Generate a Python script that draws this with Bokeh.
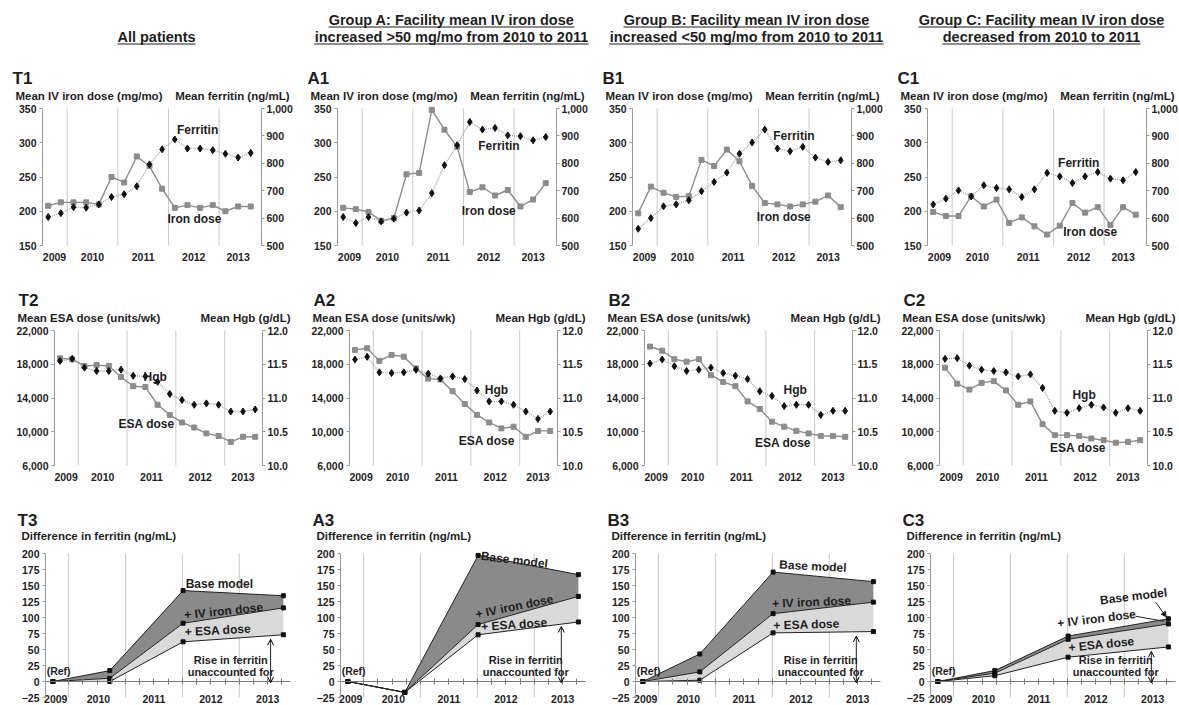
from bokeh.plotting import figure
from bokeh.models import (Range1d, LinearAxis, FixedTicker, Label,
                          NumeralTickFormatter, Arrow, OpenHead, NormalHead)
from bokeh.layouts import column, row
from bokeh.embed import file_html
from bokeh.resources import INLINE
from bokeh.core.properties import value

FONT = "Liberation Sans"
TXT = "#1e1e1e"

# ---------------- data ----------------
quarters = ["2009 Q3", "2009 Q4", "2010 Q1", "2010 Q2", "2010 Q3", "2010 Q4",
            "2011 Q1", "2011 Q2", "2011 Q3", "2011 Q4", "2012 Q1", "2012 Q2",
            "2012 Q3", "2012 Q4", "2013 Q1", "2013 Q2", "2013 Q3"]
years = ["2009", "2010", "2011", "2012", "2013"]

# Row 1: mean IV iron dose (mg/mo) and mean ferritin (ng/mL)
iron_T = [208, 213, 213, 213, 210, 250, 242, 280, 266, 233, 205, 209, 205, 209, 200, 207, 207]
ferr_T = [604, 618, 640, 638, 650, 677, 687, 716, 796, 851, 887, 854, 854, 848, 835, 821, 838]
iron_A = [205, 203, 199, 186, 190, 254, 256, 348, 319, 294, 228, 235, 223, 231, 207, 217, 241]
ferr_A = [604, 582, 604, 588, 598, 620, 628, 691, 793, 866, 951, 923, 929, 902, 899, 884, 896]
iron_B = [197, 236, 227, 221, 222, 275, 266, 290, 273, 237, 212, 210, 207, 210, 214, 223, 206]
ferr_B = [561, 600, 643, 650, 665, 698, 732, 766, 835, 876, 923, 854, 844, 860, 821, 805, 811]
iron_C = [199, 193, 193, 222, 207, 217, 183, 191, 178, 166, 179, 212, 198, 206, 180, 206, 195]
ferr_C = [650, 671, 701, 679, 720, 710, 705, 677, 705, 765, 752, 728, 752, 768, 744, 738, 768]

# Row 2: mean ESA dose (units/wk) and mean Hgb (g/dL)
esa_T = [18700, 18600, 17800, 17900, 17800, 16500, 15400, 15300, 13200, 12000, 11100, 10500, 9800, 9500, 8800, 9400, 9400]
hgb_T = [11.55, 11.58, 11.45, 11.40, 11.40, 11.42, 11.33, 11.32, 11.24, 11.06, 10.97, 10.90, 10.92, 10.90, 10.80, 10.80, 10.83]
esa_A = [19700, 19900, 18400, 19100, 18900, 17500, 16300, 16200, 14800, 13300, 12000, 11100, 10400, 10600, 9400, 10100, 10100]
hgb_A = [11.57, 11.61, 11.38, 11.37, 11.38, 11.42, 11.36, 11.29, 11.32, 11.28, 11.11, 10.95, 10.95, 10.90, 10.80, 10.69, 10.80]
esa_B = [20100, 19600, 18600, 18300, 18600, 16700, 15900, 15400, 13600, 12700, 11200, 10600, 10100, 9800, 9500, 9500, 9400]
hgb_B = [11.51, 11.57, 11.47, 11.40, 11.42, 11.45, 11.37, 11.33, 11.28, 11.10, 11.03, 10.88, 10.90, 10.90, 10.75, 10.81, 10.81]
esa_C = [17600, 15700, 15000, 15800, 16000, 14900, 13200, 13600, 10900, 9600, 9600, 9500, 9200, 9000, 8700, 8800, 9000]
hgb_C = [11.58, 11.59, 11.48, 11.42, 11.40, 11.38, 11.32, 11.35, 11.15, 10.81, 10.78, 10.85, 10.90, 10.86, 10.78, 10.85, 10.81]

# Row 3: difference in ferritin (ng/mL) by model, at four time points (quarter index)
diff_x = [0.4, 4.4, 9.55, 16.6]
base_T = [0, 17, 142, 134]
iv_T = [0, 5, 91, 115]
esa3_T = [0, 0, 62, 73]
base_A = [0, -17, 197, 167]
iv_A = [0, -17, 89, 133]
esa3_A = [0, -17, 73, 93]
base_B = [0, 43, 171, 156]
iv_B = [0, 15, 106, 124]
esa3_B = [0, 2, 76, 78]
base_C = [0, 17, 71, 98]
iv_C = [0, 13, 66, 90]
esa3_C = [0, 9, 38, 54]

headers = [["All patients"],
           ["Group A: Facility mean IV iron dose", "increased >50 mg/mo from 2010 to 2011"],
           ["Group B: Facility mean IV iron dose", "increased <50 mg/mo from 2010 to 2011"],
           ["Group C: Facility mean IV iron dose", "decreased from 2010 to 2011"]]

# ---------------- layout constants ----------------
COLWS = [295, 295, 295, 293]
xq = list(range(len(quarters)))
year_pos12 = [0.5, 3.5, 7.5, 11.5, 15.0]
year_pos3 = [0.6, 3.6, 7.5, 11.5, 15.5]
year_breaks = [1.5, 5.5, 9.5, 13.5]
quarter_bounds = [b + 0.5 for b in range(1, 17)]
AXC = "#9a9a9a"
TICK_SIZE = "10.5px"
TITLE_SIZE = "11.5px"


def style_axis(ax, size=TICK_SIZE):
    ax.major_label_text_font = FONT
    ax.major_label_text_font_style = "bold"
    ax.major_label_text_font_size = size
    ax.major_label_text_color = TXT
    ax.minor_tick_line_color = None


def add_label(p, x, y, text, size=TITLE_SIZE, align="center", baseline="middle",
              xo=0, yo=0, angle=0.0, rname="default"):
    p.add_layout(Label(x=x, y=y, text=text, x_offset=xo, y_offset=yo, angle=angle,
                       text_font=FONT, text_font_style="bold", text_font_size=size,
                       text_color=TXT, text_align=align, text_baseline=baseline,
                       y_range_name=rname))


def full_range(lo, hi, before, inner, after):
    s = (hi - lo) / inner
    return Range1d(lo - before * s, hi + after * s)


def panel_fig(W, H, fl, fw, top, fh, xbox, ybox):
    """Figure whose frame fills the whole canvas; the plot box (fl, top, fw, fh)
    maps to the data box xbox x ybox. All axes are fixed inside."""
    xr = full_range(xbox[0], xbox[1], fl, fw, W - fl - fw)
    yr = full_range(ybox[0], ybox[1], H - top - fh, fh, top)
    p = figure(width=W, height=H, x_range=xr, y_range=yr,
               output_backend="svg", toolbar_location=None, min_border=0,
               x_axis_location=None, y_axis_location=None)
    p.outline_line_color = None
    p.grid.visible = False
    n = len(year_breaks)
    p.segment(x0=year_breaks, y0=[ybox[0]] * n, x1=year_breaks, y1=[ybox[1]] * n,
              line_color="#c9c9c9", line_width=1)
    return p


def value_axis(loc, bounds, ticks, fmt, rname="default"):
    ax = LinearAxis(fixed_location=loc, bounds=bounds, y_range_name=rname,
                    ticker=FixedTicker(ticks=ticks))
    if fmt:
        ax.formatter = NumeralTickFormatter(format=fmt)
    ax.axis_line_color = AXC
    ax.major_tick_line_color = AXC
    ax.major_tick_out = 3
    ax.major_tick_in = 0
    ax.major_label_standoff = 3
    style_axis(ax)
    return ax


def dual_panel(W, letter, ltitle, rtitle, lvals, rvals, lrange, lticks, lfmt,
               rrange, rticks, rfmt, names, fl, fw, fh, xend, letter_dx, title_dx, rtitle_dx):
    H, top = 222, 53
    xbox = (-0.45, xend)
    p = panel_fig(W, H, fl, fw, top, fh, xbox, lrange)
    p.extra_y_ranges = {"r": full_range(rrange[0], rrange[1], H - top - fh, fh, top)}

    xa = LinearAxis(fixed_location=lrange[0], ticker=FixedTicker(ticks=year_pos12))
    xa.major_label_overrides = {v: t for v, t in zip(year_pos12, years)}
    xa.axis_line_color = None
    xa.major_tick_line_color = None
    xa.major_tick_out = 0
    xa.major_label_standoff = 7
    style_axis(xa)
    p.add_layout(xa, "below")
    p.add_layout(value_axis(xbox[0], lrange, lticks, lfmt), "left")
    ra = value_axis(xbox[1], rrange, rticks, rfmt, rname="r")
    ra.major_label_standoff = 2
    p.add_layout(ra, "right")

    p.line(xq, lvals, line_color="#8c8c8c", line_width=1.4)
    p.scatter(xq, lvals, marker="square", size=5, color="#8c8c8c")
    p.line(xq, rvals, y_range_name="r", line_color="#a8a8a8", line_width=1.4, line_dash="1 1")
    p.scatter(xq, rvals, y_range_name="r", marker="diamond", size=7, color="#111111")

    for (t, x, y) in names:
        add_label(p, x, y, t, size="12px")

    add_label(p, xbox[0], lrange[1], letter, size="17px", align="left", xo=letter_dx, yo=30)
    add_label(p, xbox[0], lrange[1], ltitle, align="left", xo=title_dx, yo=13)
    add_label(p, xbox[1], lrange[1], rtitle, align="right", xo=rtitle_dx, yo=13)
    return p


def diff_panel(W, letter, base, iv, esa, texts, arrow_x, extras=()):
    H, top, fl, fw, fh = 205, 54, 45, 245, 144
    xbox, ybox = (-0.12, 17.1), (-25, 200)
    p = panel_fig(W, H, fl, fw, top, fh, xbox, ybox)
    p.add_layout(value_axis(xbox[0], ybox, [-25, 0, 25, 50, 75, 100, 125, 150, 175, 200], None), "left")
    xa = LinearAxis(fixed_location=0, bounds=xbox,
                    ticker=FixedTicker(ticks=year_pos3, minor_ticks=quarter_bounds))
    xa.major_label_overrides = {v: t for v, t in zip(year_pos3, years)}
    xa.axis_line_color = "#7a7a7a"
    xa.major_tick_line_color = None
    xa.major_tick_out = 0
    xa.major_tick_in = 0
    xa.major_label_standoff = 10
    style_axis(xa)
    xa.minor_tick_line_color = "#7a7a7a"
    xa.minor_tick_in = 3
    xa.minor_tick_out = 3
    p.add_layout(xa, "below")

    p.varea(x=diff_x, y1=iv, y2=base, fill_color="#8a8a8a")
    p.varea(x=diff_x, y1=esa, y2=iv, fill_color="#d9d9d9")
    for s in (base, iv, esa):
        p.line(diff_x, s, line_color="#222222", line_width=1)
        p.scatter(diff_x, s, marker="square", size=4, color="#111111")

    for (t, x, y, ang) in texts:
        add_label(p, x, y, t, size="12px", angle=ang)
    add_label(p, 0.8, 16, "(Ref)", size="10.5px")
    add_label(p, 12.9, 33, "Rise in ferritin", size="11px")
    add_label(p, 12.9, 15, "unaccounted for", size="11px")
    p.add_layout(Arrow(x_start=arrow_x, y_start=esa[-1] - 7, x_end=arrow_x, y_end=-2,
                       start=OpenHead(size=6, line_width=1), end=OpenHead(size=6, line_width=1),
                       line_width=1, line_color="#222222"))
    for (xs, ys, xe, ye, head) in extras:
        p.add_layout(Arrow(x_start=xs, y_start=ys, x_end=xe, y_end=ye,
                           end=NormalHead(size=5, fill_color="#222222", line_color="#222222") if head else None,
                           line_width=1, line_color="#222222"))

    add_label(p, xbox[0], ybox[1], letter, size="17px", align="left", xo=-28, yo=33)
    add_label(p, xbox[0], ybox[1], "Difference in ferritin (ng/mL)", align="left", xo=-24, yo=18)
    return p


# ---------------- header ----------------
widths = {' ': 278, 'A': 722, 'B': 722, 'C': 722, 'F': 611, 'G': 778, 'I': 278, 'V': 667,
          'a': 556, 'b': 611, 'c': 556, 'd': 611, 'e': 556, 'f': 333, 'g': 611, 'h': 611,
          'i': 278, 'l': 278, 'm': 889, 'n': 611, 'o': 611, 'p': 611, 'r': 389, 's': 556,
          't': 333, 'u': 611, 'y': 556, ':': 333, '>': 584, '<': 584, '/': 278}
HSIZE = 14.5
HDR_H = 55
TOTAL_W = sum(COLWS)


def tw(s):
    return sum(widths.get(ch, 556) for ch in s) / 1000.0 * HSIZE


hdr = figure(width=TOTAL_W, height=HDR_H, x_range=Range1d(0, TOTAL_W), y_range=Range1d(0, HDR_H),
             output_backend="svg", toolbar_location=None, min_border=0,
             x_axis_location=None, y_axis_location=None)
hdr.outline_line_color = None
hdr.grid.visible = False
hx, hy, ht, ux0, ux1, uy = [], [], [], [], [], []
for c, lines in enumerate(headers):
    cx = sum(COLWS[:c]) + 156
    centers = [36] if len(lines) == 1 else [19, 36]
    for t, yc in zip(lines, centers):
        hx.append(cx)
        hy.append(HDR_H - yc)
        ht.append(t)
        w = tw(t)
        ux0.append(cx - w / 2)
        ux1.append(cx + w / 2)
        uy.append(HDR_H - yc - 7.5)
hdr.text(x=hx, y=hy, text=ht, text_align="center", text_baseline="middle",
         text_font=value(FONT), text_font_style="bold", text_font_size="14.5px", text_color=TXT)
hdr.segment(x0=ux0, y0=uy, x1=ux1, y1=uy, line_color=TXT, line_width=1.2)

# ---------------- panels ----------------
r1 = []
r1_specs = [("T1", iron_T, ferr_T, [("Ferritin", 11.8, 318), ("Iron dose", 11.55, 188)]),
            ("A1", iron_A, ferr_A, [("Ferritin", 12.3, 295), ("Iron dose", 11.5, 200)]),
            ("B1", iron_B, ferr_B, [("Ferritin", 12.3, 310), ("Iron dose", 11.5, 191)]),
            ("C1", iron_C, ferr_C, [("Ferritin", 11.5, 270), ("Iron dose", 12.4, 170)])]
for W, (letter, lv, rv, nm) in zip(COLWS, r1_specs):
    r1.append(dual_panel(W, letter, "Mean IV iron dose (mg/mo)", "Mean ferritin (ng/mL)", lv, rv,
                         (150, 350), [150, 200, 250, 300, 350], "0,0",
                         (500, 1000), [500, 600, 700, 800, 900, 1000], "0,0",
                         nm, 42, 219, 137, 16.85, -30, -27, 28))

r2 = []
r2_specs = [("T2", esa_T, hgb_T, [("Hgb", 7.8, 16500), ("ESA dose", 7.1, 10900)]),
            ("A2", esa_A, hgb_A, [("Hgb", 11.6, 15000), ("ESA dose", 10.8, 8900)]),
            ("B2", esa_B, hgb_B, [("Hgb", 11.9, 15000), ("ESA dose", 10.9, 8700)]),
            ("C2", esa_C, hgb_C, [("Hgb", 11.4, 14400), ("ESA dose", 10.9, 8100)])]
for W, (letter, lv, rv, nm) in zip(COLWS, r2_specs):
    r2.append(dual_panel(W, letter, "Mean ESA dose (units/wk)", "Mean Hgb (g/dL)", lv, rv,
                         (6000, 22000), [6000, 10000, 14000, 18000, 22000], "0,0",
                         (10.0, 12.0), [10.0, 10.5, 11.0, 11.5, 12.0], "0.0",
                         nm, 54, 208, 135, 16.6, -36, -37, 28))

r3_specs = [
    ("T3", base_T, iv_T, esa3_T,
     [("Base model", 12.1, 153, 0.0), ("+ IV iron dose", 12.4, 110, 0.1),
      ("+ ESA dose", 12.0, 80, 0.05)], 15.7, ()),
    ("A3", base_A, iv_A, esa3_A,
     [("Base model", 12.1, 190, -0.12), ("+ IV iron dose", 12.1, 117, 0.2),
      ("+ ESA dose", 12.1, 89, 0.07)], 15.4, ()),
    ("B3", base_B, iv_B, esa3_B,
     [("Base model", 12.35, 180, -0.05), ("+ IV iron dose", 12.25, 124, 0.04),
      ("+ ESA dose", 11.9, 89, 0.03)], 15.4, ()),
    ("C3", base_C, iv_C, esa3_C,
     [("Base model", 14.15, 133, 0.12), ("+ IV iron dose", 11.55, 98, 0.12),
      ("+ ESA dose", 11.9, 58, 0.1)], 15.4,
     [(15.7, 124, 16.45, 101, True), (14.3, 102, 16.3, 94, False)]),
]
r3 = [diff_panel(W, *spec[:6], extras=spec[6]) for W, spec in zip(COLWS, r3_specs)]

layout = column(hdr, row(*r1), row(*r2), row(*r3))
open("out.html", "w").write(file_html(layout, INLINE))
